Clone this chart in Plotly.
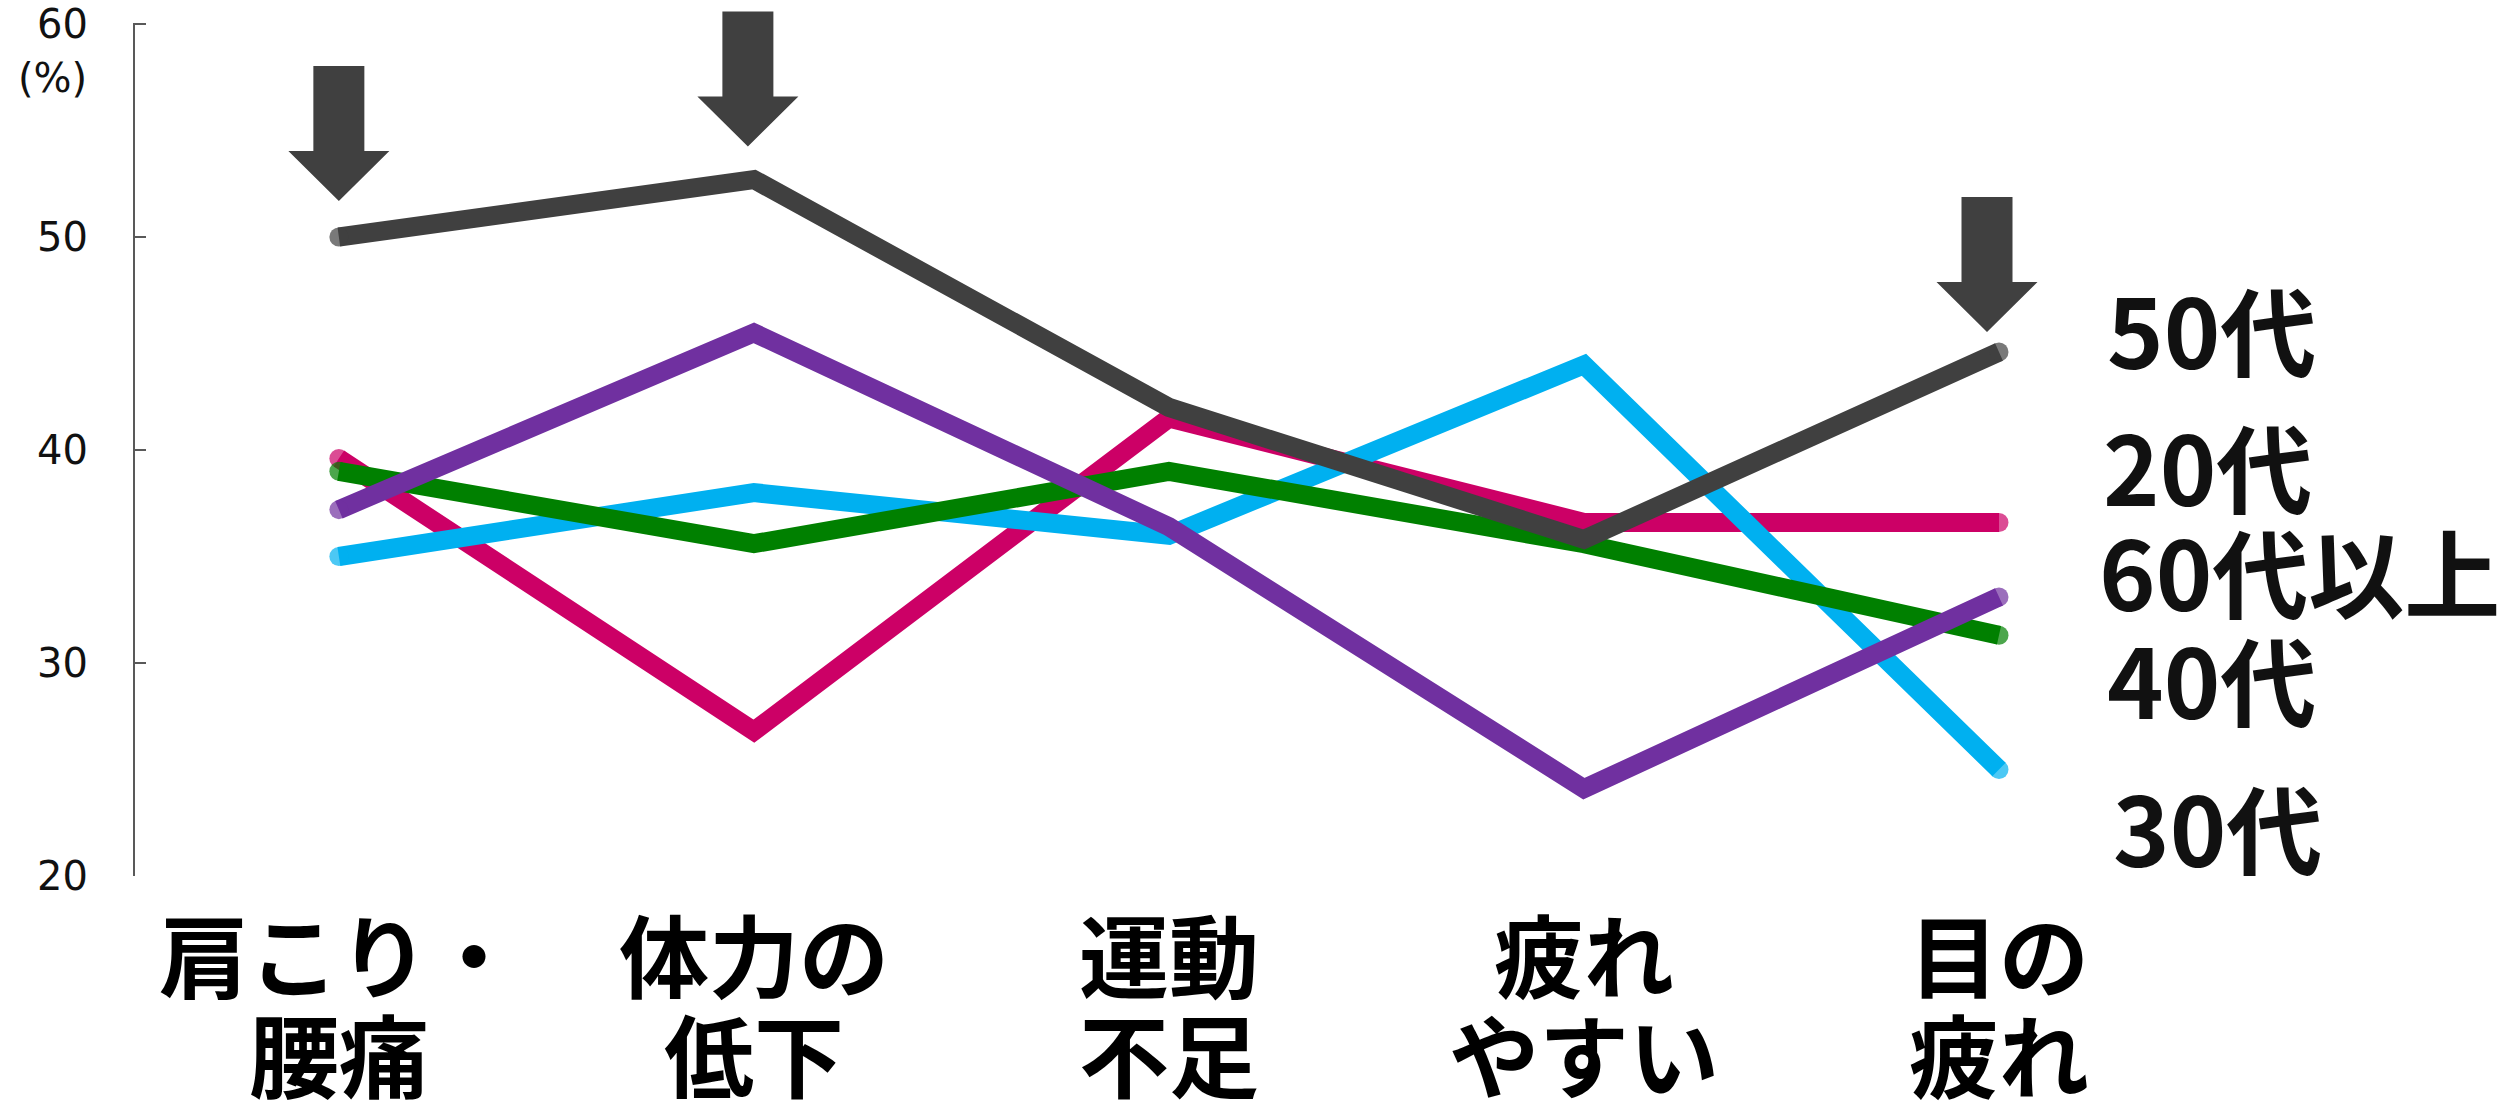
import plotly.graph_objects as go

# Categories (two-line labels) and survey values (%) by age group
cat_line1 = ["肩こり・", "体力の", "運動", "疲れ", "目の"]
cat_line2 = ["腰痛", "低下", "不足", "やすい", "疲れ"]
categories = [a + b for a, b in zip(cat_line1, cat_line2)]

age_20s = [39.6, 26.8, 41.5, 36.6, 36.6]
age_30s = [35.0, 38.0, 36.0, 44.0, 25.0]
age_40s = [39.0, 35.6, 39.0, 35.6, 31.3]
age_60s_plus = [37.2, 45.5, 36.4, 24.1, 33.1]
age_50s = [50.0, 52.7, 42.0, 35.8, 44.6]

series_names = ["20代", "30代", "40代", "60代以上", "50代"]
series_values = [age_20s, age_30s, age_40s, age_60s_plus, age_50s]
series_colors = ["#CC0066", "#00B0F0", "#008000", "#7030A0", "#404040"]

# points of the 50代 line marked with arrows
highlight_idx = [0, 1, 4]

y_ticks = [20, 30, 40, 50, 60]
Y_MIN, Y_MAX = 20, 60
Y_TOP = Y_MAX + 24 / 21.3  # headroom above the top tick for the arrows

AXIS_COLOR = "#595959"
LINE_W = 19
fig = go.Figure()
for name, vals, col in zip(series_names, series_values, series_colors):
    n = len(vals)
    fig.add_trace(go.Scatter(
        x=categories, y=vals, name=name, mode="lines+markers",
        line=dict(color=col, width=LINE_W),
        marker=dict(color=col, size=[LINE_W if i in (0, n - 1) else 0 for i in range(n)],
                    line=dict(width=0)),
        showlegend=False, hoverinfo="skip",
    ))

# series labels at the right end
label_pos = {  # (y in axis units, left edge in category units)
    "50代": (45.77, 4.255),
    "20代": (39.34, 4.245),
    "60代以上": (34.37, 4.235),
    "40代": (29.34, 4.255),
    "30代": (22.35, 4.27),
}
for name in series_names:
    yv, xv = label_pos[name]
    fig.add_annotation(
        x=xv, y=yv, xref="x", yref="y", text=name, showarrow=False,
        xanchor="left", yanchor="middle",
        font=dict(family="Noto Sans CJK JP", size=96, color="#111111", weight="bold"),
    )

# category labels below the plot
for c, l1, l2 in zip(categories, cat_line1, cat_line2):
    for txt, shift in ((l1, -76), (l2, -176)):
        fig.add_annotation(
            x=c, y=Y_MIN, xref="x", yref="y", text=txt, showarrow=False,
            xanchor="center", yanchor="middle", yshift=shift,
            font=dict(family="Noto Sans CJK JP", size=90, color="#000000", weight="bold"),
        )

# unit label under the top tick
fig.add_annotation(
    x=0, y=Y_MAX, xref="paper", yref="y", text="(%)", showarrow=False,
    xanchor="right", yanchor="middle", xshift=-44, yshift=-54,
    font=dict(family="DejaVu Sans", size=40, color="#111111"),
)

# vertical axis line, from the bottom to the top tick only
fig.add_shape(
    type="line", xref="paper", yref="y", xsizemode="pixel", xanchor=0,
    x0=1, x1=1, y0=Y_MIN, y1=Y_MAX,
    line=dict(color=AXIS_COLOR, width=2), layer="above",
)

# downward arrows above highlighted points
arrow_style = {0: (0, 36), 1: (-6, 33), 4: (-12, 20)}  # (dx, gap) in px
top_series = age_50s
for i in highlight_idx:
    dx, gap = arrow_style[i]
    sw, hw, hh, total = 25.5, 50.5, 50, 135
    pts = [
        (dx, gap),
        (dx - hw, gap + hh),
        (dx - sw, gap + hh),
        (dx - sw, gap + total),
        (dx + sw, gap + total),
        (dx + sw, gap + hh),
        (dx + hw, gap + hh),
    ]
    path = "M " + " L ".join(f"{px},{py}" for px, py in pts) + " Z"
    fig.add_shape(
        type="path", path=path, xref="x", yref="y",
        xsizemode="pixel", ysizemode="pixel",
        xanchor=categories[i], yanchor=top_series[i],
        fillcolor="#404040", line=dict(width=0), layer="above",
    )

fig.update_layout(
    width=2507, height=1113,
    margin=dict(l=133, r=0, t=0, b=237),
    paper_bgcolor="white", plot_bgcolor="white",
    showlegend=False,
    xaxis=dict(
        type="category", categoryorder="array", categoryarray=categories,
        range=[-0.496, 5.224], visible=False, fixedrange=True,
    ),
    yaxis=dict(
        range=[Y_MIN, Y_TOP], tickvals=y_ticks, ticktext=[str(t) for t in y_ticks],
        showgrid=False, zeroline=False, showline=False,
        ticks="inside", ticklen=13, tickwidth=2, tickcolor=AXIS_COLOR,
        ticklabelstandoff=44,
        tickfont=dict(family="DejaVu Sans", size=40, color="#111111"),
        fixedrange=True,
    ),
)

fig.write_html("out.html")
